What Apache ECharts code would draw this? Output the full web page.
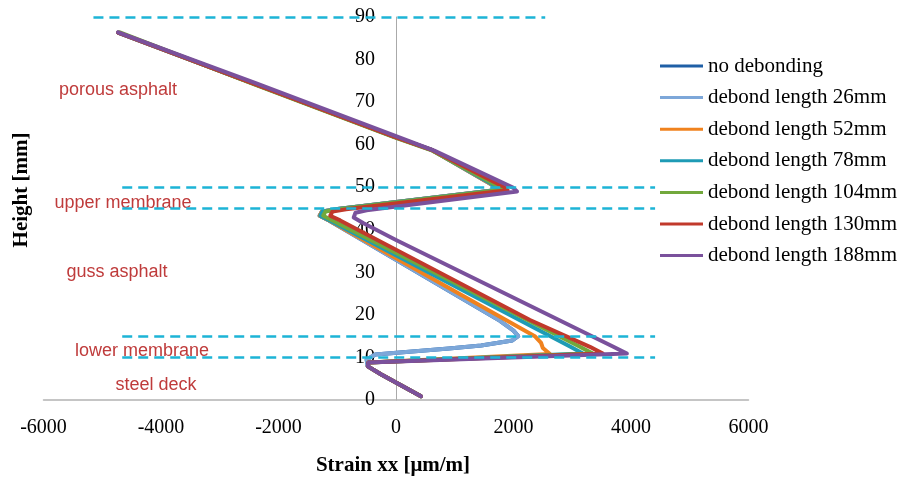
<!DOCTYPE html>
<html><head><meta charset="utf-8">
<script src="https://cdn.jsdelivr.net/npm/echarts@6/dist/echarts.min.js"></script>
<style>html,body{margin:0;padding:0;background:#fff}#c{width:906px;height:479px}</style>
</head><body><div id="c"></div>
<script>
// ---- data: [strain (µm/m), height (mm)] ----
const seriesNames = ['no debonding','debond length 26mm','debond length 52mm','debond length 78mm','debond length 104mm','debond length 130mm','debond length 188mm'];
const seriesColors = ['#1f5fa6','#7da7d9','#f0821e','#1e9bb5','#72a83c','#c1392b','#7a519c'];

const noDebonding = [[425,0.9],[-250,6.0],[-480,7.9],[-500,9.5],[-350,10.7],[900,12.1],[1450,12.8],[1980,14.0],[2080,15.0],[2000,16.3],[1770,18.6],[-1140,42.2],[-1300,43.3],[-1260,44.3],[-1030,44.8],[1750,49.4],[1680,50.2],[620,58.7],[0,61.7],[-2400,74.2],[-4730,86.3]];
const debond26 = [[425,0.9],[-250,6.0],[-480,7.9],[-500,9.5],[-350,10.7],[900,12.1],[1450,12.8],[1980,14.0],[2080,15.0],[2000,16.3],[1770,18.6],[-1140,42.2],[-1300,43.3],[-1260,44.3],[-1030,44.8],[1750,49.4],[1680,50.2],[620,58.7],[0,61.7],[-2400,74.2],[-4730,86.3]];
const debond52 = [[425,0.9],[-250,6.0],[-480,7.9],[-470,8.8],[2620,10.8],[2500,12.2],[2470,13.4],[2370,14.9],[-1140,42.2],[-1300,43.3],[-1260,44.3],[-1030,44.8],[1750,49.4],[1680,50.2],[620,58.7],[0,61.7],[-2400,74.2],[-4730,86.3]];
const debond78 = [[425,0.9],[-250,6.0],[-480,7.9],[-470,8.8],[3180,10.9],[2970,12.5],[-1130,42.2],[-1290,43.3],[-1250,44.3],[-1020,44.8],[1770,49.4],[1700,50.2],[620,58.7],[0,61.7],[-2400,74.2],[-4730,86.3]];
const debond104 = [[425,0.9],[-250,6.0],[-480,7.9],[-470,8.8],[3350,10.9],[3130,12.5],[-1080,42.2],[-1240,43.3],[-1200,44.3],[-970,44.8],[1820,49.4],[1750,50.2],[620,58.6],[0,61.6],[-2400,74.1],[-4700,86.4]];
const debond130 = [[425,0.9],[-250,6.0],[-480,7.9],[-470,8.8],[3520,10.9],[3300,12.5],[2280,18.8],[-950,42.2],[-1120,43.3],[-1080,44.3],[-850,44.8],[1900,49.3],[1830,50.1],[620,58.7],[0,61.7],[-2400,74.2],[-4730,86.3]];
const debond188 = [[425,0.9],[-250,6.0],[-480,7.9],[-470,8.8],[3930,10.9],[3700,12.5],[0,37.6],[-560,41.6],[-720,42.9],[-690,44.0],[-500,44.6],[2060,49.0],[1990,49.9],[650,58.6],[0,62.0],[-2400,74.5],[-4730,86.4]];

const xTicks = {min:-6000, max:6000, interval:2000};
const yTicks = {min:0, max:90, interval:10};

// layer boundary reference lines
const boundaryHeights = [90, 50, 45, 15, 10];
const boundaryFrom = [-5150, -4660, -4660, -4660, -4660];
const boundaryTo = [2540, 4410, 4410, 4410, 4410];

const layerLabels = ['porous asphalt','upper membrane','guss asphalt','lower membrane','steel deck'];
// ----

const allData = [noDebonding, debond26, debond52, debond78, debond104, debond130, debond188];
const chart = echarts.init(document.getElementById('c'), null, {renderer:'canvas'});

const series = allData.map((d,i)=>({
  name: seriesNames[i], type:'line', data:d, showSymbol:false, smooth:false,
  color: seriesColors[i],
  lineStyle:{width:4, color: seriesColors[i], cap:'round', join:'round'},
  animation:false
}));
series.push({
  name:'boundaries', type:'lines', coordinateSystem:'cartesian2d', silent:true,
  data: boundaryHeights.map((h,i)=>({coords:[[boundaryFrom[i],h],[boundaryTo[i],h]]})),
  lineStyle:{color:'#1db4d6', width:2.5, type:[10,6], opacity:1},
  z:5, animation:false
});

const labelPos = [[118,90],[123,203],[117,272],[142,351],[156,385]];
const gridLeft = 43.5, gridRight = 157.5;
const plotW = 906 - gridLeft - gridRight;
const zeroX = plotW * (0 - xTicks.min) / (xTicks.max - xTicks.min);

chart.setOption({
  animation:false,
  backgroundColor:'#fff',
  grid:{left:gridLeft, right:gridRight, top:17, bottom:79, containLabel:false},
  xAxis:{type:'value', min:xTicks.min, max:xTicks.max, interval:xTicks.interval,
    axisLine:{show:true, onZero:true, lineStyle:{color:'#b3b3b3', width:1.5}},
    axisTick:{show:false}, splitLine:{show:false},
    axisLabel:{margin:18, fontSize:20, fontFamily:'Liberation Serif', color:'#000', formatter:v=>String(v)}},
  yAxis:{type:'value', position:'left', offset:-zeroX, min:yTicks.min, max:yTicks.max, interval:yTicks.interval,
    axisLine:{show:true, onZero:false, lineStyle:{color:'#aaaaaa', width:1}},
    axisTick:{show:false}, splitLine:{show:false},
    axisLabel:{margin:21, fontSize:20, fontFamily:'Liberation Serif', color:'#000'}},
  legend:{data:seriesNames, orient:'vertical', left:655, top:50.5, itemWidth:43, itemHeight:3,
    icon:'rect', itemGap:10.6,
    textStyle:{fontSize:21, lineHeight:21, fontFamily:'Liberation Serif', color:'#000'}},
  graphic:[
    {type:'text', x:393, y:466, style:{text:'Strain xx [μm/m]', font:'bold 21px "Liberation Serif"', fill:'#000', align:'center', verticalAlign:'middle'}},
    {type:'text', x:22, y:190, rotation:Math.PI/2, style:{text:'Height [mm]', font:'bold 21px "Liberation Serif"', fill:'#000', align:'center', verticalAlign:'middle'}}
  ].concat(layerLabels.map((t,i)=>({type:'text', x:labelPos[i][0], y:labelPos[i][1],
    style:{text:t, font:'18px "Liberation Sans"', fill:'#bf3b3b', align:'center', verticalAlign:'middle'}}))),
  series: series
});
</script></body></html>
